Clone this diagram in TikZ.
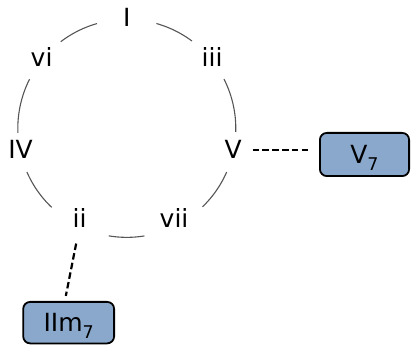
\documentclass[tikz,border=0pt]{standalone}
\usepackage{fontspec}
\setmainfont{DejaVu Sans}
\definecolor{boxblue}{RGB}{137,168,204}
\definecolor{arcgray}{RGB}{85,85,85}
\newcommand{\chsub}[1]{\raisebox{-6.7pt}{\fontsize{17.5}{20}\selectfont #1}}
\begin{document}
\begin{tikzpicture}[x=1pt,y=1pt,
  lbl/.style={inner sep=0pt, outer sep=0pt, font=\fontsize{25}{30}\selectfont, text depth=0pt},
  chordbox/.style={draw=black, line width=1.8pt, fill=boxblue, rounded corners=7pt,
    inner sep=0pt, outer sep=0pt, font=\fontsize{25}{30}\selectfont, text depth=0pt,
    minimum height=43.2pt},
  arcline/.style={draw=arcgray, line width=1.1pt},
  dashline/.style={draw=black, line width=2.2pt, dash pattern=on 6.5pt off 3.3pt},
  cyc/.style={bend left=25.71, looseness=0.896}
]
\useasboundingbox (0,0) rectangle (411,347);
\coordinate (O) at (126.8,218.6);
% degree labels on the circle
\node[lbl, text height=14.6pt] (I)   at ([shift={(90:109)}]O)     {I};
\node[lbl, text height=12.4pt] (iii) at ([shift={(38.57:109)}]O)  {iii};
\node[lbl, text height=12.6pt] (V)   at ([shift={(-12.86:109)}]O) {V};
\node[lbl, text height=0.8pt]  (vii) at ([shift={(-64.29:109)}]O) {vii};
\node[lbl, text height=0.8pt]  (ii)  at ([shift={(244.29:109)}]O) {ii};
\node[lbl, text height=12.6pt] (IV)  at ([shift={(192.86:109)}]O) {IV};
\node[lbl, text height=12.4pt] (vi)  at ([shift={(141.43:109)}]O) {vi};
% circle arcs between labels
\draw[arcline, dash pattern=on 0pt off 30pt on 39.85pt off 400pt]   (I.center)   to[cyc] (iii.center);
\draw[arcline, dash pattern=on 0pt off 22.2pt on 54.75pt off 400pt] (iii.center) to[cyc] (V.center);
\draw[arcline, dash pattern=on 0pt off 20.4pt on 42.65pt off 400pt] (V.center)   to[cyc] (vii.center);
\draw[arcline, dash pattern=on 0pt off 31.2pt on 35.85pt off 400pt] (vii.center) to[cyc] (ii.center);
\draw[arcline, dash pattern=on 0pt off 34pt on 43.45pt off 400pt]   (ii.center)  to[cyc] (IV.center);
\draw[arcline, dash pattern=on 0pt off 19.9pt on 55.55pt off 400pt] (IV.center)  to[cyc] (vi.center);
\draw[arcline, dash pattern=on 0pt off 26.9pt on 40.75pt off 400pt] (vi.center)  to[cyc] (I.center);
% chord boxes
\node[chordbox, minimum width=89.2pt] (V7)   at (364.5,192.5) {V\chsub{7}};
\node[chordbox, minimum width=90.9pt, minimum height=41.5pt] (IIm7) at (68.65,24.35) {IIm\chsub{7}};
% dashed links
\coordinate (Vd) at ([yshift=2.7pt]V.center);
\draw[dashline, shorten <=19.6pt, shorten >=11.6pt] (Vd) -- (Vd -| V7.west);
\coordinate (IIt) at ([xshift=-4pt]IIm7.north);
\draw[dashline, shorten <=17.3pt, shorten >=6.1pt] (ii.center) -- (IIt);
\end{tikzpicture}
\end{document}
